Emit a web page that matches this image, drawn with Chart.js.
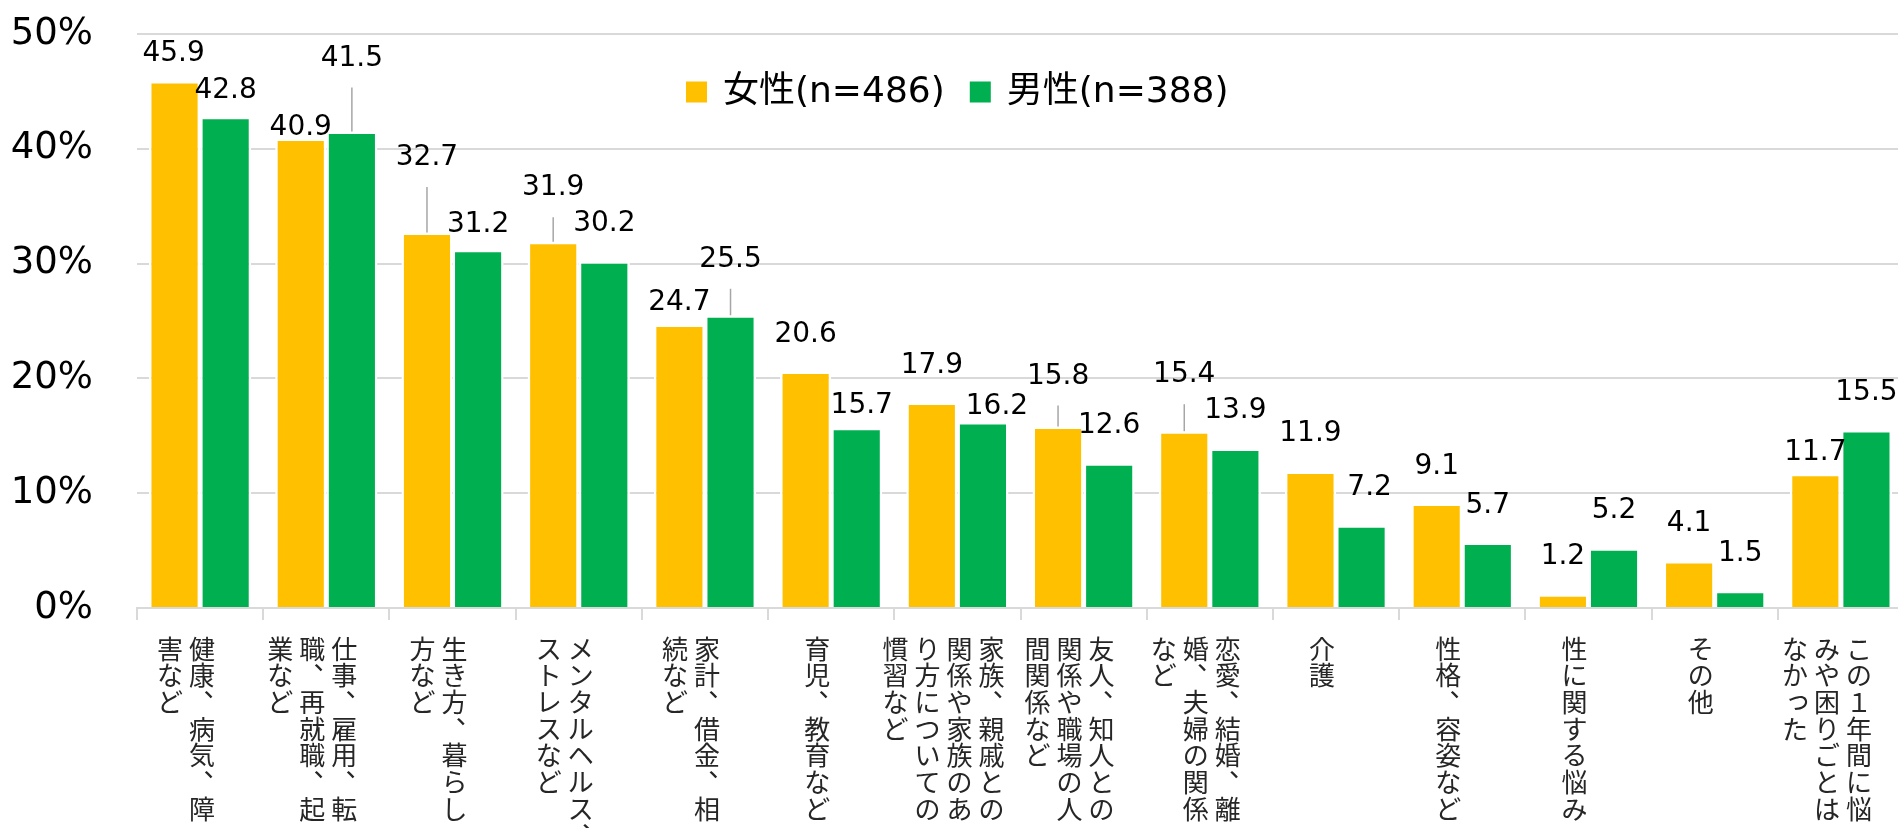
<!DOCTYPE html>
<html lang="ja">
<head>
<meta charset="utf-8">
<title>この1年間の悩みや困りごと（男女別）</title>
<script src="https://cdn.jsdelivr.net/npm/chart.js@4.4.1/dist/chart.umd.min.js"></script>
<style>
  html, body { margin: 0; padding: 0; background: #fff; overflow: hidden; }
  #wrap { width: 1906px; height: 828px; }
</style>
</head>
<body>
<div id="wrap"><canvas id="chart" width="1906" height="828"></canvas></div>
<script>
// categories, already broken into the vertical columns (read right to left)
const categories = [
  ["健康、病気、障", "害など"],
  ["仕事、雇用、転", "職、再就職、起", "業など"],
  ["生き方、暮らし", "方など"],
  ["メンタルヘルス、", "ストレスなど"],
  ["家計、借金、相", "続など"],
  ["育児、教育など"],
  ["家族、親戚との", "関係や家族のあ", "り方についての", "慣習など"],
  ["友人、知人との", "関係や職場の人", "間関係など"],
  ["恋愛、結婚、離", "婚、夫婦の関係", "など"],
  ["介護"],
  ["性格、容姿など"],
  ["性に関する悩み"],
  ["その他"],
  ["この１年間に悩", "みや困りごとは", "なかった"]
];
const seriesNames = ["女性(n=486)", "男性(n=388)"];
const female = [45.9, 40.9, 32.7, 31.9, 24.7, 20.6, 17.9, 15.8, 15.4, 11.9, 9.1, 1.2, 4.1, 11.7];
const male = [42.8, 41.5, 31.2, 30.2, 25.5, 15.7, 16.2, 12.6, 13.9, 7.2, 5.7, 5.2, 1.5, 15.5];
const yTicks = [0, 10, 20, 30, 40, 50];

// hand-moved data labels (px, up is positive) as in the original
const liftF = [-10, -27, 37.5, 16.5, -15.5, 0, 0, 13, 19, 0, 0, 0, 0, -16.5];
const liftM = [-11, 36, -12.5, 0, 18.5, -15.5, -21.5, 0, 0, 0, 0, 0, 0, 0];
const shiftF = [-1, 0, 0, 0, 0, 0, 0, 0, 0, 0, 0, 0, 0, 0];
const shiftM = [0, 0, 0, 0, 0, 5, 14, 0, 0, 8, 0, 0, 0, 0];

const colors = ["#FFC000", "#00B050"];
const BORDER = 2.5;
const LATIN = '"DejaVu Sans", "Noto Sans CJK JP", sans-serif';
const CJK = '"Noto Sans CJK JP", "DejaVu Sans", sans-serif';

// value labels + leader lines
const valueLabels = {
  id: "valueLabels",
  afterDatasetsDraw(chart) {
    const ctx = chart.ctx;
    const lifts = [liftF, liftM];
    const shifts = [shiftF, shiftM];
    ctx.save();
    ctx.font = "28px " + LATIN;
    ctx.textAlign = "center";
    ctx.textBaseline = "alphabetic";
    chart.data.datasets.forEach((ds, di) => {
      chart.getDatasetMeta(di).data.forEach((bar, i) => {
        const top = bar.y + BORDER;
        const lift = lifts[di][i];
        const cy = top - 42.5 - lift;
        if (lift > 10) {
          ctx.strokeStyle = "#a6a6a6";
          ctx.lineWidth = 1.5;
          ctx.beginPath();
          ctx.moveTo(bar.x, cy + 32);
          ctx.lineTo(bar.x, top - 2.5);
          ctx.stroke();
        }
        ctx.fillStyle = "#000";
        ctx.fillText(ds.data[i].toFixed(1), bar.x + shifts[di][i], cy + 10);
      });
    });
    ctx.restore();
  }
};

// vertical (tategaki) category labels under the axis
const verticalLabels = {
  id: "verticalLabels",
  afterDraw(chart) {
    const ctx = chart.ctx;
    const xs = chart.scales.x;
    const size = 26, pitch = 26.7, colGap = 32;
    ctx.save();
    ctx.font = size + "px " + CJK;
    ctx.fillStyle = "#262626";
    ctx.textAlign = "center";
    ctx.textBaseline = "alphabetic";
    categories.forEach((cols, i) => {
      const center = xs.getPixelForValue(i) - 14;
      const n = cols.length;
      cols.forEach((line, c) => {
        const cx = center + (n - 1) / 2 * colGap - c * colGap;
        Array.from(line).forEach((ch, k) => {
          let x = cx, y = 637 + 0.83 * size + k * pitch;
          if (ch === "、" || ch === "。") { x += 0.55 * size; y -= 0.58 * size; }
          if ("っゃゅょッャュョ".includes(ch)) { x += 0.12 * size; y -= 0.12 * size; }
          ctx.fillText(ch, x, y);
        });
      });
    });
    ctx.restore();
  }
};

// legend placed inside the plot, as in the original
const innerLegend = {
  id: "innerLegend",
  afterDraw(chart) {
    const ctx = chart.ctx;
    let x = 686;
    const cy = 92;
    ctx.save();
    ctx.font = "36px " + LATIN;
    ctx.textBaseline = "middle";
    ctx.textAlign = "left";
    chart.data.datasets.forEach((ds) => {
      ctx.fillStyle = ds.backgroundColor;
      ctx.fillRect(x, cy - 10.5, 21, 21);
      x += 21 + 16;
      ctx.fillStyle = "#000";
      ctx.fillText(ds.label, x, cy + 1);
      x += ctx.measureText(ds.label).width + 25;
    });
    ctx.restore();
  }
};

new Chart(document.getElementById("chart"), {
  type: "bar",
  data: {
    labels: categories,
    datasets: [
      { label: seriesNames[0], data: female, backgroundColor: colors[0] },
      { label: seriesNames[1], data: male, backgroundColor: colors[1] }
    ]
  },
  options: {
    responsive: false,
    animation: false,
    devicePixelRatio: 1,
    layout: { padding: { top: 34, right: 2, bottom: 0, left: 0 } },
    datasets: {
      bar: {
        categoryPercentage: 0.81,
        barPercentage: 1.0,
        borderColor: "#fff",
        borderWidth: BORDER
      }
    },
    plugins: {
      legend: { display: false },
      tooltip: { enabled: false }
    },
    scales: {
      x: {
        offset: true,
        grid: {
          offset: true,
          drawOnChartArea: false,
          color: "#d9d9d9",
          lineWidth: 2,
          tickLength: 12
        },
        border: { color: "#d9d9d9", width: 2 },
        ticks: { display: false },
        afterFit(scale) { scale.height = 220; }
      },
      y: {
        min: 0,
        max: 50,
        afterBuildTicks(scale) { scale.ticks = yTicks.map(v => ({ value: v })); },
        ticks: {
          padding: 0,
          color: "#000",
          font: { family: LATIN, size: 37 },
          callback: v => v + "%"
        },
        grid: {
          color: "#d9d9d9",
          lineWidth: 2,
          drawTicks: true,
          tickLength: 44,
          tickColor: "rgba(0,0,0,0)"
        },
        border: { display: false },
        afterFit(scale) { scale.width = 137; }
      }
    }
  },
  plugins: [valueLabels, verticalLabels, innerLegend]
});
</script>
</body>
</html>
